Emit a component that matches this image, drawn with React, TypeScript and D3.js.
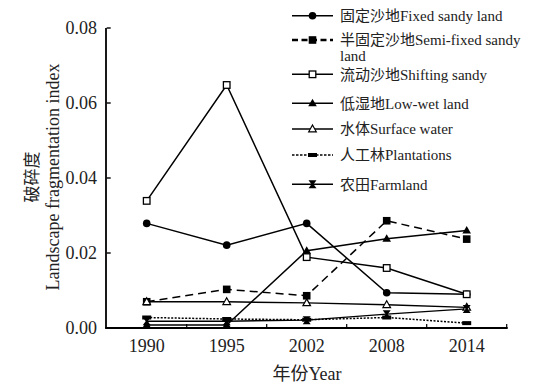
import React from "react";
import * as d3 from "d3";

const years = ["1990", "1995", "2002", "2008", "2014"];
const yTicks = [0, 0.02, 0.04, 0.06, 0.08];

const fixedSandy = [0.0279, 0.0221, 0.0279, 0.0094, 0.009];
const semiFixed = [0.007, 0.0103, 0.0086, 0.0286, 0.0237];
const shifting = [0.0339, 0.0648, 0.0189, 0.016, 0.009];
const lowWet = [0.0008, 0.0008, 0.0206, 0.0238, 0.026];
const surfaceWater = [0.007, 0.007, 0.0067, 0.0062, 0.0055];
const plantations = [0.0028, 0.0024, 0.0022, 0.0028, 0.0013];
const farmland = [0.0018, 0.0018, 0.0021, 0.0037, 0.0051];

const seriesNames = [
  ["固定沙地Fixed sandy land"],
  ["半固定沙地Semi-fixed sandy", "land"],
  ["流动沙地Shifting sandy"],
  ["低湿地Low-wet land"],
  ["水体Surface water"],
  ["人工林Plantations"],
  ["农田Farmland"],
];

type Marker = "circle" | "square" | "openSquare" | "triangle" | "openTriangle" | "rect" | "hourglass";

const series: { values: number[]; dash: string; marker: Marker; lw: number }[] = [
  { values: fixedSandy, dash: "", marker: "circle", lw: 1.5 },
  { values: semiFixed, dash: "8,5", marker: "square", lw: 1.5 },
  { values: shifting, dash: "", marker: "openSquare", lw: 1.5 },
  { values: lowWet, dash: "", marker: "triangle", lw: 1.5 },
  { values: surfaceWater, dash: "", marker: "openTriangle", lw: 1.5 },
  { values: plantations, dash: "2,1.5", marker: "rect", lw: 1.5 },
  { values: farmland, dash: "", marker: "hourglass", lw: 1.5 },
];

const FONT = "'Liberation Serif', 'Noto Sans CJK SC', serif";

function MarkerShape({ type, x, y }: { type: Marker; x: number; y: number }) {
  switch (type) {
    case "circle":
      return <circle cx={x} cy={y} r={3.8} fill="#000" />;
    case "square":
      return <rect x={x - 3.8} y={y - 3.8} width={7.6} height={7.6} fill="#000" />;
    case "openSquare":
      return <rect x={x - 3.3} y={y - 3.3} width={6.6} height={6.6} fill="#fff" stroke="#000" strokeWidth={1.3} />;
    case "triangle":
      return <path d={`M${x},${y - 4.5}L${x + 4.3},${y + 3}L${x - 4.3},${y + 3}Z`} fill="#000" />;
    case "openTriangle":
      return (
        <path d={`M${x},${y - 4}L${x + 3.8},${y + 2.8}L${x - 3.8},${y + 2.8}Z`} fill="#fff" stroke="#000" strokeWidth={1.2} />
      );
    case "rect":
      return <rect x={x - 4.5} y={y - 2} width={9} height={4} fill="#000" />;
    case "hourglass":
      return (
        <path
          d={`M${x - 4},${y - 4}L${x + 4},${y - 4}L${x + 1},${y}L${x + 4},${y + 4}L${x - 4},${y + 4}L${x - 1},${y}Z`}
          fill="#000"
        />
      );
  }
}

export default function App() {
  const width = 533;
  const height = 391;
  const x0 = 106.7;
  const x1 = 506.7;
  const yBottom = 328;
  const yTop = 28;

  const x = d3.scaleBand<string>().domain(years).range([x0, x1]).padding(0);
  const y = d3.scaleLinear().domain([0, 0.08]).range([yBottom, yTop]);
  const cx = (yr: string) => (x(yr) as number) + x.bandwidth() / 2;

  const line = d3
    .line<number>()
    .x((_, i) => cx(years[i]))
    .y((v) => y(v));

  const boundaries = years.map((yr) => x(yr) as number).concat([x1]);

  const legendX0 = 292;
  const legendX1 = 333;
  const legendTextX = 340;
  const legendRows = [15.7, 40, 74.3, 103.3, 129, 155, 184.3];
  const ts = { fontFamily: FONT };

  return (
    <svg
      width={width}
      height={height}
      style={{ position: "absolute", left: 0, top: 0, background: "#fff", fontFamily: FONT }}
    >
      <rect width={width} height={height} fill="#fff" />
      {series.map((s, i) => (
        <path
          key={i}
          d={line(s.values) || ""}
          fill="none"
          stroke="#000"
          strokeWidth={s.lw}
          strokeDasharray={s.dash}
        />
      ))}
      {series.map((s, i) => (
        <g key={"m" + i}>
          {s.values.map((v, j) => (
            <MarkerShape key={j} type={s.marker} x={cx(years[j])} y={y(v)} />
          ))}
        </g>
      ))}
      <line x1={x0 - 0.7} x2={x0 - 0.7} y1={yTop} y2={yBottom} stroke="#000" strokeWidth={1.8} />
      <line x1={x0 - 1.6} x2={x1 + 1} y1={yBottom} y2={yBottom} stroke="#000" strokeWidth={1.8} />
      {yTicks.map((t) => (
        <g key={t}>
          <line x1={x0} x2={x0 + 4} y1={y(t)} y2={y(t)} stroke="#000" strokeWidth={1.4} />
          <text x={97} y={y(t)} dy="0.35em" textAnchor="end" fontSize={18} fill="#222" style={ts}>
            {t.toFixed(2)}
          </text>
        </g>
      ))}
      {boundaries.slice(1).map((b, i) => (
        <line key={i} x1={b} x2={b} y1={yBottom} y2={yBottom - 4} stroke="#000" strokeWidth={1.2} />
      ))}
      {years.map((yr) => (
        <text key={yr} x={cx(yr)} y={352} textAnchor="middle" fontSize={18} fill="#222" style={ts}>
          {yr}
        </text>
      ))}
      <text x={307} y={380} textAnchor="middle" fontSize={18} fill="#222" style={ts}>
        年份Year
      </text>
      <text transform="translate(38,177) rotate(-90)" textAnchor="middle" fontSize={17} fill="#222" style={ts}>
        破碎度
      </text>
      <text transform="translate(59,177) rotate(-90)" textAnchor="middle" fontSize={18} fill="#222" style={ts}>
        Landscape fragmentation index
      </text>
      {series.map((s, i) => {
        const ly = legendRows[i];
        const mid = (legendX0 + legendX1) / 2;
        return (
          <g key={"l" + i}>
            <line
              x1={legendX0}
              x2={legendX1}
              y1={ly}
              y2={ly}
              stroke="#000"
              strokeWidth={s.marker === "square" ? 2.6 : 1.6}
              strokeDasharray={s.dash ? (s.marker === "square" ? "6,3.5" : "2.5,1.5") : ""}
            />
            <MarkerShape type={s.marker} x={mid} y={ly} />
            {seriesNames[i].map((t, k) => (
              <text key={k} x={legendTextX} y={ly + k * 15.5} dy="0.35em" fontSize={15} fill="#222" style={ts}>
                {t}
              </text>
            ))}
          </g>
        );
      })}
    </svg>
  );
}
